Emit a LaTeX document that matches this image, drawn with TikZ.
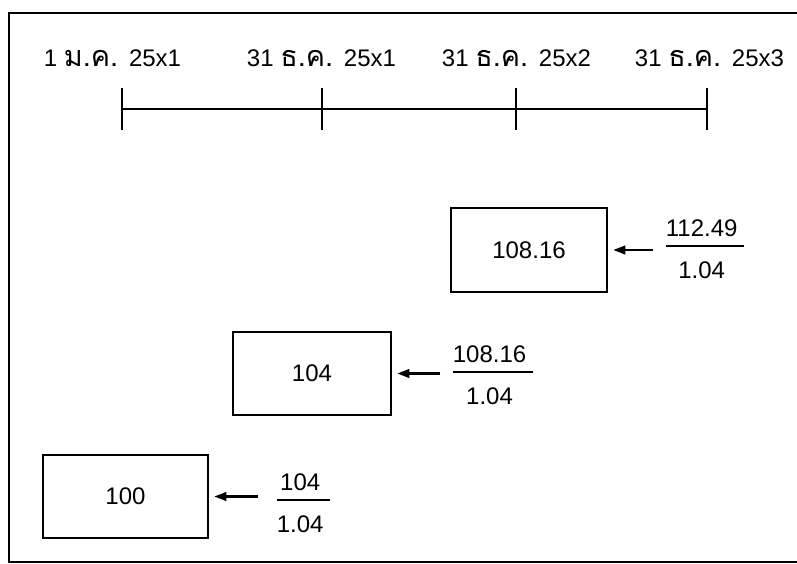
\documentclass[tikz,border=0pt]{standalone}
\usepackage{fontspec}
\usepackage{amsmath}
\setmainfont{Liberation Sans}
\newfontfamily\thaifont[Script=Thai,Scale=1.2]{Loma}
\usetikzlibrary{arrows.meta}
\newcommand{\myfr}[2]{$\genfrac{}{}{1.6pt}{0}{\text{#1\kern5pt}}{\text{\rule{0pt}{1.03em}#2\kern5pt}}$}
\begin{document}
\begin{tikzpicture}[x=0.75pt,y=-0.75pt,
  frame/.style={line width=2pt},
  tl/.style={line width=1.5pt},
  lab/.style={anchor=base,inner sep=0pt,font=\fontsize{18}{22}\selectfont},
  box/.style={draw,line width=1.5pt,inner sep=0pt,font=\fontsize{18}{22}\selectfont},
  frac/.style={anchor=base west,inner sep=0pt,font=\fontsize{18}{22}\selectfont},
  arr/.style={line width=1.6pt,-{Triangle[length=9pt,width=6.5pt]},shorten >=4pt,shorten <=8pt}]
\clip (0,0) rectangle (797,564);
\fill[white] (0,0) rectangle (797,564);
\draw[frame] (9,13) rectangle (830,562);
% timeline
\coordinate (t1) at (122,109);
\coordinate (t2) at (322,109);
\coordinate (t3) at (516,109);
\coordinate (t4) at (707,109);
\draw[tl] (t1) -- (t4);
\foreach \t in {t1,t2,t3,t4} \draw[tl] ([yshift=15.5pt]\t) -- ([yshift=-15.5pt]\t);
\node[lab] (l1) at (112.5,66) {1 {\thaifont ม.ค.}\hspace{0.45em}25x1};
\node[lab] (l2) at (321.5,66) {31 {\thaifont ธ.ค.}\hspace{0.45em}25x1};
\node[lab] (l3) at (516.5,66) {31 {\thaifont ธ.ค.}\hspace{0.45em}25x2};
\node[lab] (l4) at (709.5,66) {31 {\thaifont ธ.ค.}\hspace{0.45em}25x3};
% boxes
\node[box,minimum width=117pt,minimum height=63pt] (b1) at (529,250) {108.16};
\node[box,minimum width=118.5pt,minimum height=62pt] (b2) at (312,373.5) {104};
\node[box,minimum width=123.75pt,minimum height=62pt] (b3) at (125.5,496.5) {100};
% fractions
\node[frac] (f1) at (664,252) {\myfr{112.49}{1.04}};
\node[frac] (f2) at (451,378) {\myfr{108.16}{1.04}};
\node[frac] (f3) at (275,506) {\myfr{104}{1.04}};
% arrows
\draw[arr] (f1.west |- b1.east) -- (b1.east);
\draw[arr] (f2.west |- b2.east) -- (b2.east);
\draw[arr,shorten <=12.75pt] (f3.west |- b3.east) -- (b3.east);
\end{tikzpicture}
\end{document}
